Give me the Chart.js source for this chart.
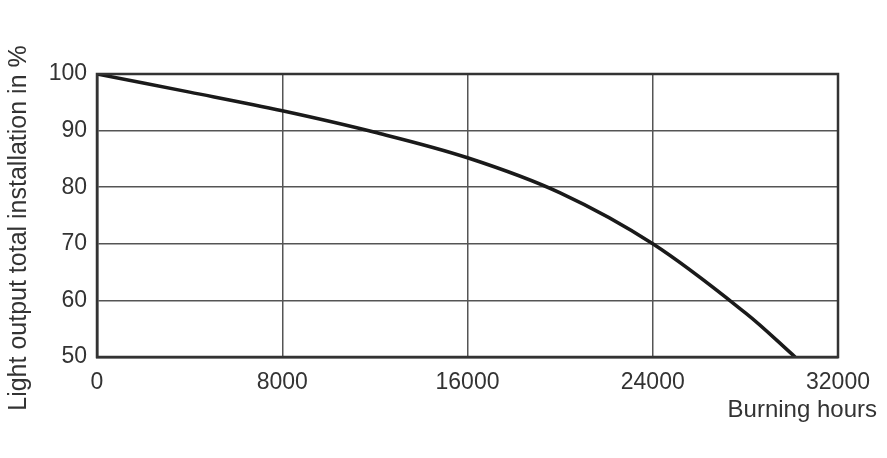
<!DOCTYPE html>
<html>
<head>
<meta charset="utf-8">
<script src="https://cdn.jsdelivr.net/npm/chart.js@4.4.1/dist/chart.umd.min.js"></script>
<style>
  html, body { margin: 0; padding: 0; background: #fff; }
  #wrap { width: 887px; height: 458px; }
</style>
</head>
<body>
<div id="wrap"><canvas id="lumenChart" width="887" height="458"></canvas></div>
<script>
// burning hours vs light output (%)
const hours = [0, 4000, 8000, 12000, 16000, 20000, 24000, 28000, 30150];
const lightOutput = [100, 96.8, 93.5, 89.7, 85.2, 79.0, 70.0, 57.8, 50];
const xTicks = [0, 8000, 16000, 24000, 32000];
const yTicks = [50, 60, 70, 80, 90, 100];
const xTitle = "Burning hours";
const yTitle = "Light output total installation in %";

const FONT = "'Liberation Sans', Arial, sans-serif";

// axis titles drawn by hand, positions
const titlesPlugin = {
    id: "titlesPlugin",
    afterDraw(chart) {
        const ctx = chart.ctx;
        const area = chart.chartArea;
        ctx.save();
        ctx.fillStyle = "#333";
        ctx.font = "24px " + FONT;
        ctx.textAlign = "right";
        ctx.textBaseline = "middle";
        ctx.fillText(xTitle, 877, area.bottom + 53);

        ctx.font = "25px " + FONT;
        ctx.textAlign = "center";
        ctx.translate(19, 228);
        ctx.rotate(-Math.PI / 2);
        ctx.fillText(yTitle, 0, 0);
        ctx.restore();
    }
};

const framePlugin = {
    id: "frame",
    afterDraw(chart) {
        const { ctx, chartArea: a } = chart;
        ctx.save();
        ctx.strokeStyle = "#333";
        ctx.lineWidth = 2.5;
        ctx.strokeRect(a.left, a.top, a.right - a.left, a.bottom - a.top);
        ctx.restore();
    }
};

const canvas = document.getElementById("lumenChart");
new Chart(canvas.getContext("2d"), {
    type: "line",
    data: {
        datasets: [{
            data: hours.map((h, i) => ({ x: h, y: lightOutput[i] })),
            borderColor: "#1a1a1a",
            borderWidth: 3.5,
            pointRadius: 0,
            tension: 0.35,
            fill: false
        }]
    },
    options: {
        responsive: false,
        animation: false,
        layout: { padding: { left: 0, right: 49, top: 74, bottom: 0 } },
        plugins: { legend: { display: false }, tooltip: { enabled: false } },
        scales: {
            x: {
                type: "linear",
                min: 0,
                max: 32000,
                afterBuildTicks: axis => { axis.ticks = xTicks.map(v => ({ value: v })); },
                afterFit: axis => { axis.height = 101; },
                ticks: {
                    color: "#333",
                    font: { family: FONT, size: 23 },
                    padding: 12,
                    maxRotation: 0,
                    callback: v => String(v)
                },
                grid: { color: "#555", lineWidth: 1.5, drawTicks: false },
                border: { color: "#333", width: 2.5 }
            },
            y: {
                min: 50,
                max: 100,
                afterBuildTicks: axis => { axis.ticks = yTicks.map(v => ({ value: v })); },
                afterFit: axis => { axis.width = 97; },
                ticks: {
                    color: "#333",
                    font: { family: FONT, size: 23 },
                    padding: 10
                },
                grid: { color: "#555", lineWidth: 1.5, drawTicks: false },
                border: { color: "#333", width: 2.5 }
            }
        }
    },
    plugins: [titlesPlugin, framePlugin]
});
</script>
</body>
</html>
